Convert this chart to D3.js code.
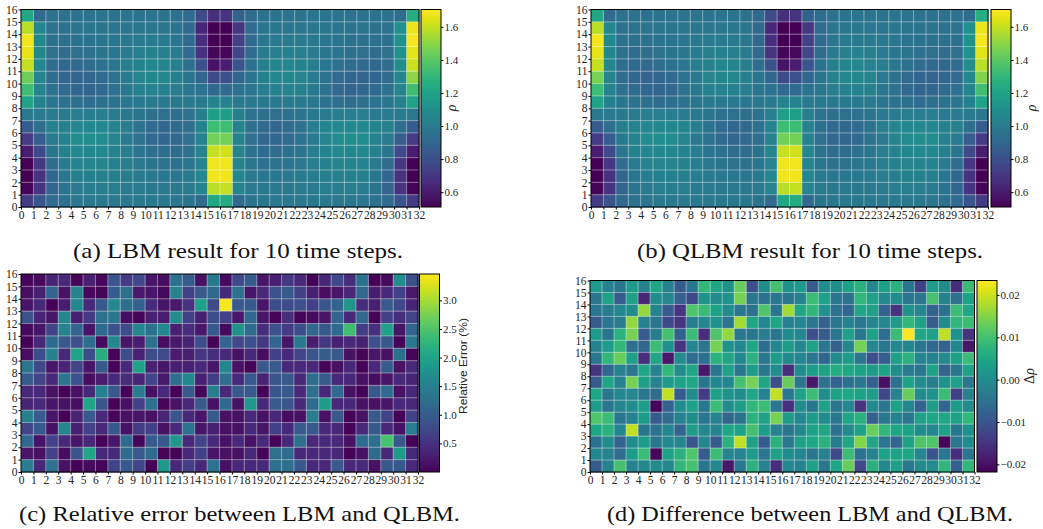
<!DOCTYPE html>
<html><head><meta charset="utf-8">
<script src="https://cdn.jsdelivr.net/npm/d3@7/dist/d3.min.js"></script>
<style>
html,body{margin:0;padding:0;background:#fff;}
svg{display:block;}
.serif{font-family:'Liberation Serif','DejaVu Serif',serif;}
.sans{font-family:'Liberation Sans','DejaVu Sans',sans-serif;}
</style></head><body>
<svg id="fig" width="1043" height="529"></svg>
<script>
// ---------- tick labels ----------
const colLabels = [0,1,2,3,4,5,6,7,8,9,10,11,12,13,14,15,16,17,18,19,20,21,22,23,24,25,26,27,28,29,30,31,32];
const rowLabels = [0,1,2,3,4,5,6,7,8,9,10,11,12,13,14,15,16];
const rhoTicks = [0.6,0.8,1.0,1.2,1.4,1.6];
const errTicks = [0.5,1.0,1.5,2.0,2.5,3.0];
const diffTicks = [-0.02,-0.01,0.00,0.01,0.02];
const rhoRange = [0.51, 1.705];
const errRange = [0.0, 3.46];
const diffRange = [-0.0218, 0.0234];
const captions = ["(a) LBM result for 10 time steps.","(b) QLBM result for 10 time steps.","(c) Relative error between LBM and QLBM.","(d) Difference between LBM and QLBM."];

// ---------- cell values: rows listed from y=15 (top) down to y=0 (bottom), columns x=0..31 ----------
const lbmRho = [
[1.22,0.92,0.96,0.96,0.96,0.96,0.97,0.97,0.97,0.97,0.97,0.97,0.96,0.92,0.78,0.67,0.69,0.88,0.93,0.96,0.97,0.97,0.97,0.97,0.97,0.97,0.96,0.96,0.96,0.96,0.93,1.25],
[1.58,1.06,0.96,0.96,0.97,0.97,0.97,0.98,0.98,0.98,0.98,0.98,0.97,0.91,0.64,0.51,0.51,0.70,0.92,0.98,0.98,0.98,0.98,0.98,0.98,0.97,0.97,0.97,0.96,0.96,1.10,1.67],
[1.68,1.07,0.95,0.95,0.96,0.96,0.97,0.98,0.99,1.00,1.00,1.00,0.98,0.91,0.66,0.51,0.51,0.74,0.92,0.98,1.00,1.00,1.00,0.99,0.98,0.97,0.96,0.96,0.95,0.95,1.12,1.69],
[1.66,1.07,0.94,0.93,0.94,0.95,0.97,0.98,1.00,1.02,1.03,1.02,1.00,0.92,0.68,0.53,0.53,0.76,0.93,1.00,1.02,1.03,1.02,1.00,0.98,0.97,0.95,0.94,0.93,0.94,1.11,1.65],
[1.60,1.06,0.93,0.91,0.91,0.93,0.95,0.98,1.01,1.04,1.06,1.05,1.02,0.94,0.80,0.57,0.60,0.82,0.95,1.02,1.05,1.06,1.04,1.01,0.98,0.95,0.93,0.91,0.91,0.93,1.09,1.61],
[1.44,1.05,0.93,0.90,0.89,0.90,0.92,0.96,1.00,1.05,1.07,1.06,1.03,0.97,0.90,0.78,0.80,0.90,0.97,1.03,1.06,1.07,1.05,1.00,0.96,0.92,0.90,0.89,0.90,0.93,1.07,1.50],
[1.33,1.04,0.95,0.92,0.90,0.89,0.91,0.95,0.99,1.03,1.04,1.03,1.01,0.98,0.96,0.91,0.92,0.96,0.98,1.01,1.03,1.04,1.03,0.99,0.95,0.91,0.89,0.90,0.92,0.95,1.05,1.34],
[1.20,1.03,0.98,0.96,0.94,0.93,0.94,0.96,0.98,1.00,1.00,0.99,0.99,0.99,1.00,1.04,1.04,1.00,0.99,0.99,0.99,1.00,1.00,0.98,0.96,0.94,0.93,0.94,0.96,0.98,1.03,1.20],
[0.99,1.00,1.00,1.00,1.01,1.01,1.01,1.00,0.99,0.97,0.95,0.94,0.94,0.96,1.02,1.18,1.18,1.02,0.96,0.94,0.94,0.95,0.97,0.99,1.00,1.01,1.01,1.01,1.00,1.00,1.00,0.99],
[0.86,0.94,1.02,1.04,1.06,1.07,1.07,1.05,1.01,0.96,0.92,0.90,0.91,0.94,1.04,1.33,1.33,1.04,0.94,0.91,0.90,0.92,0.96,1.01,1.05,1.07,1.07,1.06,1.04,1.02,0.94,0.86],
[0.72,0.86,1.00,1.04,1.08,1.09,1.08,1.05,1.00,0.96,0.92,0.90,0.91,0.94,1.04,1.45,1.45,1.04,0.94,0.91,0.90,0.92,0.96,1.00,1.05,1.08,1.09,1.08,1.04,1.00,0.86,0.72],
[0.60,0.78,0.97,1.03,1.06,1.07,1.07,1.04,1.01,0.97,0.95,0.93,0.93,0.96,1.05,1.60,1.62,1.05,0.96,0.93,0.93,0.95,0.97,1.01,1.04,1.07,1.07,1.06,1.03,0.97,0.78,0.60],
[0.51,0.70,0.93,1.00,1.04,1.05,1.05,1.03,1.01,0.99,0.97,0.96,0.96,0.98,1.05,1.68,1.68,1.05,0.98,0.96,0.96,0.97,0.99,1.01,1.03,1.05,1.05,1.04,1.00,0.93,0.70,0.51],
[0.51,0.68,0.90,0.98,1.02,1.03,1.03,1.02,1.01,1.00,0.99,0.98,0.98,0.99,1.06,1.68,1.68,1.06,0.99,0.98,0.98,0.99,1.00,1.01,1.02,1.03,1.03,1.02,0.98,0.90,0.68,0.51],
[0.52,0.69,0.89,0.97,1.00,1.01,1.01,1.01,1.00,1.00,0.99,0.99,0.99,1.00,1.05,1.58,1.60,1.05,1.00,0.99,0.99,0.99,1.00,1.00,1.01,1.01,1.01,1.00,0.97,0.89,0.69,0.52],
[0.72,0.82,0.92,0.96,0.98,0.99,0.99,0.99,0.99,0.99,0.99,0.99,0.98,0.97,0.92,1.22,1.24,0.92,0.97,0.98,0.99,0.99,0.99,0.99,0.99,0.99,0.99,0.98,0.96,0.92,0.82,0.72]
];

const qlbmRho = [
[1.22,0.92,0.96,0.96,0.96,0.96,0.97,0.97,0.97,0.97,0.97,0.97,0.96,0.92,0.78,0.67,0.69,0.88,0.93,0.96,0.97,0.97,0.97,0.97,0.97,0.97,0.96,0.96,0.96,0.96,0.93,1.25],
[1.58,1.06,0.96,0.96,0.97,0.97,0.97,0.98,0.98,0.98,0.98,0.98,0.97,0.91,0.64,0.51,0.51,0.70,0.92,0.98,0.98,0.98,0.98,0.98,0.98,0.97,0.97,0.97,0.96,0.96,1.10,1.67],
[1.68,1.07,0.95,0.95,0.96,0.96,0.97,0.98,0.99,1.00,1.00,1.00,0.98,0.91,0.66,0.51,0.51,0.74,0.92,0.98,1.00,1.00,1.00,0.99,0.98,0.97,0.96,0.96,0.95,0.95,1.12,1.69],
[1.66,1.07,0.94,0.93,0.94,0.95,0.97,0.98,1.00,1.02,1.03,1.02,1.00,0.92,0.68,0.53,0.53,0.76,0.93,1.00,1.02,1.03,1.02,1.00,0.98,0.97,0.95,0.94,0.93,0.94,1.11,1.65],
[1.60,1.06,0.93,0.91,0.91,0.93,0.95,0.98,1.01,1.04,1.06,1.05,1.02,0.94,0.80,0.57,0.60,0.82,0.95,1.02,1.05,1.06,1.04,1.01,0.98,0.95,0.93,0.91,0.91,0.93,1.09,1.58],
[1.46,1.05,0.93,0.90,0.89,0.90,0.92,0.96,1.00,1.05,1.07,1.06,1.03,0.97,0.90,0.78,0.80,0.90,0.97,1.03,1.06,1.07,1.05,1.00,0.96,0.92,0.90,0.89,0.90,0.93,1.07,1.48],
[1.33,1.04,0.95,0.92,0.90,0.89,0.91,0.95,0.99,1.03,1.04,1.03,1.01,0.98,0.96,0.91,0.92,0.96,0.98,1.01,1.03,1.04,1.03,0.99,0.95,0.91,0.89,0.90,0.92,0.95,1.05,1.34],
[1.20,1.03,0.98,0.96,0.94,0.93,0.94,0.96,0.98,1.00,1.00,0.99,0.99,0.99,1.00,1.04,1.04,1.00,0.99,0.99,0.99,1.00,1.00,0.98,0.96,0.94,0.93,0.94,0.96,0.98,1.03,1.20],
[0.99,1.00,1.00,1.00,1.01,1.01,1.01,1.00,0.99,0.97,0.95,0.94,0.94,0.96,1.02,1.18,1.18,1.02,0.96,0.94,0.94,0.95,0.97,0.99,1.00,1.01,1.01,1.01,1.00,1.00,1.00,0.99],
[0.86,0.94,1.02,1.04,1.06,1.07,1.07,1.05,1.01,0.96,0.92,0.90,0.91,0.94,1.04,1.33,1.33,1.04,0.94,0.91,0.90,0.92,0.96,1.01,1.05,1.07,1.07,1.06,1.04,1.02,0.94,0.86],
[0.72,0.86,1.00,1.04,1.08,1.09,1.08,1.05,1.00,0.96,0.92,0.90,0.91,0.94,1.04,1.45,1.45,1.04,0.94,0.91,0.90,0.92,0.96,1.00,1.05,1.08,1.09,1.08,1.04,1.00,0.86,0.72],
[0.60,0.78,0.97,1.03,1.06,1.07,1.07,1.04,1.01,0.97,0.95,0.93,0.93,0.96,1.05,1.60,1.62,1.05,0.96,0.93,0.93,0.95,0.97,1.01,1.04,1.07,1.07,1.06,1.03,0.97,0.78,0.60],
[0.51,0.70,0.93,1.00,1.04,1.05,1.05,1.03,1.01,0.99,0.97,0.96,0.96,0.98,1.05,1.68,1.68,1.05,0.98,0.96,0.96,0.97,0.99,1.01,1.03,1.05,1.05,1.04,1.00,0.93,0.70,0.51],
[0.51,0.68,0.90,0.98,1.02,1.03,1.03,1.02,1.01,1.00,0.99,0.98,0.98,0.99,1.06,1.68,1.68,1.06,0.99,0.98,0.98,0.99,1.00,1.01,1.02,1.03,1.03,1.02,0.98,0.90,0.68,0.51],
[0.52,0.69,0.89,0.97,1.00,1.01,1.01,1.01,1.00,1.00,0.99,0.99,0.99,1.00,1.05,1.58,1.60,1.05,1.00,0.99,0.99,0.99,1.00,1.00,1.01,1.01,1.01,1.00,0.97,0.89,0.69,0.52],
[0.72,0.82,0.92,0.96,0.98,0.99,0.99,0.99,0.99,0.99,0.99,0.99,0.98,0.97,0.92,1.22,1.24,0.92,0.97,0.98,0.99,0.99,0.99,0.99,0.99,0.99,0.99,0.98,0.96,0.92,0.82,0.72]
];

const relErr = [
[0.05,0.10,0.35,0.38,0.05,0.30,0.08,0.90,0.60,0.75,0.20,0.12,1.30,1.00,0.15,1.40,0.10,0.75,1.00,0.20,0.30,0.55,0.40,0.03,0.40,0.75,0.45,1.30,0.03,0.10,1.70,0.85],
[0.12,0.32,1.10,0.15,1.55,0.08,0.03,1.00,1.25,0.22,0.20,0.08,1.55,0.65,0.95,1.15,0.38,1.30,0.20,0.40,0.85,0.95,0.65,0.30,0.12,0.20,0.40,1.15,0.28,0.38,0.65,0.22],
[0.18,0.38,0.03,0.28,1.60,0.38,0.95,1.60,1.25,1.05,0.42,0.20,0.22,0.50,1.95,0.78,3.42,0.95,0.95,0.20,0.80,0.80,0.85,0.65,0.90,1.10,1.80,0.45,0.30,0.95,0.75,0.35],
[0.85,0.35,0.20,1.60,0.30,0.60,1.25,1.35,0.12,0.03,0.30,0.28,1.70,0.65,0.30,0.80,0.65,0.22,1.15,0.20,0.03,0.45,0.03,0.10,0.20,1.10,0.38,1.15,0.03,0.65,0.45,0.70],
[0.10,0.20,0.70,1.55,1.10,0.18,1.20,0.85,0.80,1.60,1.30,1.60,0.30,0.45,0.22,0.95,0.10,1.75,1.20,0.45,0.85,0.60,0.80,1.15,0.95,1.20,2.40,0.62,0.48,1.95,0.20,1.10],
[0.03,0.38,1.20,0.95,0.85,1.25,0.10,1.60,0.20,0.28,1.30,0.12,0.22,0.35,0.80,0.03,1.10,0.75,0.85,0.55,1.10,0.20,1.40,0.28,0.55,0.30,0.38,0.32,0.85,0.95,0.05,1.40],
[0.12,0.80,1.50,0.40,2.00,0.80,2.15,0.03,0.80,0.32,0.80,0.78,0.28,0.30,0.55,0.45,0.38,0.15,0.40,0.12,0.65,0.38,0.70,0.90,1.00,0.95,0.15,0.05,0.20,0.15,1.25,0.03],
[1.35,0.75,0.20,0.35,0.70,0.18,0.95,0.03,0.38,2.00,0.32,0.20,0.30,0.30,0.38,0.20,1.60,0.15,0.03,0.95,0.95,0.40,0.40,0.38,0.03,0.15,0.40,0.05,0.38,1.00,0.15,0.40],
[0.95,0.70,0.38,1.35,0.85,0.12,0.28,0.40,0.42,0.35,0.70,0.22,1.25,1.60,0.30,0.62,1.25,0.38,0.95,0.35,0.90,0.95,0.40,1.20,0.95,0.38,0.40,0.15,0.12,0.20,0.40,0.35],
[0.38,0.40,0.15,0.03,0.15,0.38,1.50,0.95,0.03,1.45,0.15,0.38,0.03,0.95,0.05,1.45,0.40,0.95,0.95,0.03,0.90,0.95,0.38,1.25,0.40,1.20,0.15,0.03,0.95,1.20,0.15,0.40],
[0.35,0.40,0.20,0.15,0.12,2.05,0.90,0.03,0.15,0.65,1.25,0.03,0.18,0.40,0.95,0.15,1.20,0.15,1.85,0.38,0.95,0.90,0.40,1.20,1.90,0.38,0.40,0.15,0.15,0.20,0.40,0.38],
[1.50,1.00,0.20,0.03,0.35,0.95,0.40,0.05,0.15,0.20,0.15,0.35,0.90,0.38,0.20,0.95,0.15,0.15,0.38,0.15,0.38,0.12,0.15,1.45,0.15,0.95,0.03,0.15,0.95,0.68,0.03,0.68],
[0.70,0.95,0.15,1.60,0.30,0.68,0.38,0.95,0.15,0.60,0.65,0.15,0.38,1.30,0.20,0.30,0.15,0.15,0.38,0.20,0.65,0.38,0.95,0.95,0.38,0.40,0.03,0.40,0.95,0.38,0.15,1.45],
[1.15,0.15,0.68,0.38,0.20,0.40,0.03,0.20,1.20,0.05,1.00,0.95,1.85,0.38,0.70,0.40,0.15,0.38,0.15,0.38,0.03,0.38,1.25,0.40,0.40,0.38,0.15,1.20,1.25,2.45,0.95,0.03],
[0.20,0.15,0.68,0.12,0.90,2.05,0.40,0.38,1.20,0.95,1.20,0.03,0.05,0.38,0.65,0.20,0.15,0.15,0.38,0.03,1.25,1.20,0.40,0.38,0.38,0.38,0.03,0.15,1.20,0.40,1.90,0.38],
[1.45,0.40,1.30,0.15,0.03,0.10,0.05,0.68,0.95,0.70,0.03,1.85,0.40,0.65,0.40,1.30,0.15,0.38,0.38,0.40,1.25,1.25,0.95,0.40,0.38,0.95,0.38,0.40,0.15,0.95,0.95,0.40]
];

const deltaRho = [
[0.003,-0.002,-0.004,0.003,-0.002,0.005,-0.002,-0.009,-0.004,0.008,0.005,0.001,0.013,-0.011,0.000,0.010,0.001,0.003,-0.009,0.000,0.000,0.004,0.007,-0.001,0.004,0.007,-0.004,-0.013,0.003,0.000,-0.016,0.009],
[-0.004,0.004,-0.009,0.004,-0.017,0.000,-0.001,-0.008,-0.012,0.001,0.000,0.001,0.014,-0.004,-0.005,-0.004,-0.004,-0.002,0.009,0.004,-0.004,-0.005,0.008,0.004,-0.001,0.000,-0.004,-0.004,0.010,-0.002,-0.005,0.004],
[-0.004,-0.003,-0.001,0.000,0.016,-0.002,-0.009,-0.015,0.011,0.009,0.004,0.000,-0.004,-0.005,0.011,-0.004,0.017,0.005,0.008,0.001,-0.005,-0.007,0.005,0.004,-0.008,-0.015,0.001,-0.001,-0.008,-0.005,0.009,0.005],
[-0.009,-0.004,-0.003,0.016,-0.002,-0.004,-0.012,-0.015,-0.003,-0.001,0.001,-0.004,0.017,0.005,-0.001,0.005,-0.002,-0.001,-0.004,-0.008,-0.004,-0.002,-0.004,-0.001,-0.001,0.003,0.008,0.004,-0.009,0.000,0.008,0.009],
[0.003,-0.004,0.007,0.014,-0.009,-0.003,0.010,-0.008,0.009,-0.016,0.011,0.016,-0.004,-0.004,-0.003,-0.004,0.000,-0.001,-0.011,-0.009,-0.004,0.004,-0.004,0.004,-0.006,0.009,0.0234,0.005,0.004,0.019,0.001,-0.015],
[-0.002,0.003,0.008,-0.005,-0.007,0.009,0.001,-0.015,-0.001,-0.004,0.014,0.001,-0.001,0.005,-0.006,-0.001,0.003,-0.001,0.004,-0.004,-0.008,-0.001,0.014,-0.001,-0.004,-0.001,-0.001,-0.004,-0.007,-0.008,-0.001,-0.019],
[-0.004,0.008,0.013,0.004,-0.016,0.005,-0.019,0.000,-0.006,-0.005,0.007,0.005,-0.001,0.007,-0.004,0.003,0.000,-0.001,-0.004,-0.007,0.000,0.003,-0.004,-0.011,-0.009,0.004,0.007,-0.001,-0.002,0.000,0.004,0.009],
[-0.015,-0.007,-0.002,-0.004,0.005,-0.002,0.008,0.000,0.005,-0.019,-0.004,0.004,-0.004,0.003,-0.004,0.000,-0.016,0.000,0.003,0.004,0.006,0.005,0.004,0.003,0.004,0.000,-0.003,-0.004,0.004,-0.008,-0.004,0.004],
[-0.009,0.005,-0.002,0.014,0.004,-0.002,0.003,0.004,0.005,-0.004,-0.001,-0.001,0.010,0.014,0.005,-0.011,0.013,-0.004,-0.019,-0.005,-0.008,-0.005,-0.004,-0.008,-0.020,-0.005,0.004,0.000,-0.003,0.001,0.004,-0.004],
[0.005,-0.004,-0.001,-0.001,-0.004,-0.006,0.019,-0.009,0.000,-0.014,0.004,0.001,0.000,0.005,-0.002,0.019,-0.004,0.004,0.009,0.000,0.004,0.005,0.004,0.003,-0.012,-0.002,0.013,0.000,0.001,0.009,-0.013,-0.002],
[0.003,-0.004,-0.001,0.000,0.003,-0.021,-0.008,0.000,0.004,-0.004,0.009,0.000,0.003,0.008,0.009,-0.004,-0.016,0.000,-0.004,0.004,-0.004,-0.001,-0.015,0.000,-0.004,0.004,-0.001,-0.008,0.003,-0.007,0.003,0.000],
[0.011,0.009,-0.004,-0.002,0.003,-0.009,-0.006,-0.002,0.000,-0.004,-0.002,-0.007,-0.005,0.007,0.004,0.014,0.003,-0.001,0.003,0.000,-0.004,0.005,0.007,-0.008,-0.004,-0.002,-0.004,0.004,0.005,0.005,0.004,0.008],
[0.005,0.007,-0.001,0.019,-0.004,-0.005,-0.001,-0.008,0.003,-0.001,-0.002,0.005,0.004,0.010,0.003,-0.002,-0.004,-0.001,0.004,0.005,-0.005,0.000,0.004,0.013,0.008,0.005,0.004,0.000,-0.001,0.004,-0.004,0.001],
[-0.005,0.000,-0.008,0.000,0.003,-0.004,-0.001,-0.001,-0.010,-0.001,-0.009,0.007,0.019,0.004,-0.009,0.007,-0.004,0.004,0.005,0.007,-0.003,0.005,0.015,0.005,-0.004,-0.007,0.004,0.011,0.011,-0.021,-0.004,0.000],
[-0.001,-0.002,-0.006,0.003,0.009,-0.021,0.004,0.007,0.011,-0.009,0.009,-0.001,-0.002,0.003,-0.004,0.004,0.000,-0.001,-0.004,-0.002,-0.012,0.009,-0.005,-0.002,0.004,0.004,0.005,-0.001,-0.010,-0.004,-0.016,-0.004],
[-0.009,-0.002,0.010,-0.002,-0.001,0.000,-0.001,0.008,0.010,-0.004,-0.001,-0.019,-0.004,0.007,-0.002,-0.016,-0.001,-0.002,0.004,-0.004,0.005,0.013,-0.012,0.007,-0.001,0.004,-0.004,0.000,0.000,0.008,-0.008,0.008]
];

// ---------- layout (positions / styles) ----------
const panels = [
  {data: lbmRho, dom: rhoRange, ticks: rhoTicks, fmt: d3.format(".1f"),
   plot:[21,419,9.5,207], cb:[421,441,9.5,207], label:{kind:"rho", x:456, y:108},
   cap:{text:captions[0], x:238, y:257.5, w:330}},
  {data: qlbmRho, dom: rhoRange, ticks: rhoTicks, fmt: d3.format(".1f"),
   plot:[591,988,9.5,207], cb:[991,1011,9.5,207], label:{kind:"rho", x:1036, y:108},
   cap:{text:captions[1], x:810, y:257.5, w:346}},
  {data: relErr, dom: errRange, ticks: errTicks, fmt: d3.format(".1f"),
   plot:[21,418,274,472], cb:[419.5,439.5,274,472], label:{kind:"err", x:467, y:366},
   cap:{text:captions[2], x:239.5, y:520.5, w:441}},
  {data: deltaRho, dom: diffRange, ticks: diffTicks, fmt: d3.format(".2f"),
   plot:[590,974.5,280.5,472], cb:[977,997,280.5,472], label:{kind:"drho", x:1034, y:376},
   cap:{text:captions[3], x:810, y:520.5, w:406}}
];

const svg = d3.select("#fig");
const defs = svg.append("defs");

panels.forEach((p, pi) => {
  const [px0, px1, py0, py1] = p.plot;
  const g = svg.append("g");
  const x = d3.scaleLinear().domain([colLabels[0], colLabels[colLabels.length-1]]).range([px0, px1]);
  const y = d3.scaleLinear().domain([rowLabels[0], rowLabels[rowLabels.length-1]]).range([py1, py0]);
  const color = d3.scaleSequential(d3.interpolateViridis).domain(p.dom);
  const nRows = p.data.length;
  const cells = p.data.flatMap((row, i) => row.map((v, c) => ({c, r: nRows - 1 - i, v})));

  g.append("g").selectAll("rect").data(cells).join("rect")
    .attr("x", d => x(d.c)).attr("y", d => y(d.r + 1))
    .attr("width", d => x(d.c + 1) - x(d.c) + 0.5)
    .attr("height", d => y(d.r) - y(d.r + 1) + 0.5)
    .attr("fill", d => color(Math.max(p.dom[0], Math.min(p.dom[1], d.v))));

  // grid lines
  const grid = g.append("g").attr("stroke", "#fff").attr("stroke-opacity", 0.45).attr("stroke-width", 0.9);
  grid.selectAll("line.v").data(colLabels.slice(1, -1)).join("line").attr("class","v")
    .attr("x1", d => x(d)).attr("x2", d => x(d)).attr("y1", py0).attr("y2", py1);
  grid.selectAll("line.h").data(rowLabels.slice(1, -1)).join("line").attr("class","h")
    .attr("y1", d => y(d)).attr("y2", d => y(d)).attr("x1", px0).attr("x2", px1);

  // frame
  g.append("rect").attr("x", px0).attr("y", py0).attr("width", px1 - px0).attr("height", py1 - py0)
    .attr("fill", "none").attr("stroke", "#000").attr("stroke-width", 1);

  // axes
  const ax = g.append("g").attr("transform", `translate(0,${py1})`)
    .call(d3.axisBottom(x).tickValues(colLabels).tickSize(2.5).tickPadding(1.5).tickFormat(d3.format("d")));
  ax.select(".domain").remove();
  ax.attr("font-family", null).attr("font-size", 11.5).attr("class", "serif");
  ax.selectAll("text").attr("fill", "#222");
  const ay = g.append("g").attr("transform", `translate(${px0},0)`)
    .call(d3.axisLeft(y).tickValues(rowLabels).tickSize(2.5).tickPadding(1).tickFormat(d3.format("d")));
  ay.select(".domain").remove();
  ay.attr("font-family", null).attr("font-size", 11.5).attr("class", "serif");
  ay.selectAll("text").attr("fill", "#222");

  // colorbar
  const [cx0, cx1, cy0, cy1] = p.cb;
  const gid = "grad" + pi;
  const lg = defs.append("linearGradient").attr("id", gid)
    .attr("x1", 0).attr("y1", 1).attr("x2", 0).attr("y2", 0);
  const stops = d3.range(0, 1.0001, 0.02);
  lg.selectAll("stop").data(stops).join("stop")
    .attr("offset", t => t).attr("stop-color", t => d3.interpolateViridis(t));
  g.append("rect").attr("x", cx0).attr("y", cy0).attr("width", cx1 - cx0).attr("height", cy1 - cy0)
    .attr("fill", `url(#${gid})`).attr("stroke", "#000").attr("stroke-width", 1);
  const cs = d3.scaleLinear().domain(p.dom).range([cy1, cy0]);
  const ac = g.append("g").attr("transform", `translate(${cx1},0)`)
    .call(d3.axisRight(cs).tickValues(p.ticks).tickSize(2.5).tickPadding(1).tickFormat(p.fmt));
  ac.select(".domain").remove();
  ac.attr("font-family", null).attr("font-size", 11).attr("class", "serif");
  ac.selectAll("text").attr("fill", "#222");

  // colorbar label
  const lt = g.append("text").attr("transform", `translate(${p.label.x},${p.label.y}) rotate(-90)`)
    .attr("text-anchor", "middle").attr("fill", "#222");
  if (p.label.kind === "rho") {
    lt.attr("class", "serif").attr("font-size", 14).attr("font-style", "italic").text("ρ");
  } else if (p.label.kind === "err") {
    lt.attr("class", "sans").attr("font-size", 11).attr("textLength", 96).attr("lengthAdjust","spacingAndGlyphs").text("Relative Error (%)");
  } else {
    lt.attr("class", "serif").attr("font-size", 14);
    lt.append("tspan").text("Δ");
    lt.append("tspan").attr("font-style", "italic").text("ρ");
  }

  // caption
  svg.append("text").attr("x", p.cap.x).attr("y", p.cap.y).attr("text-anchor", "middle")
    .attr("class", "serif").attr("font-size", 22).attr("fill", "#111")
    .attr("textLength", p.cap.w).attr("lengthAdjust", "spacingAndGlyphs")
    .text(p.cap.text);
});
</script>
</body></html>
